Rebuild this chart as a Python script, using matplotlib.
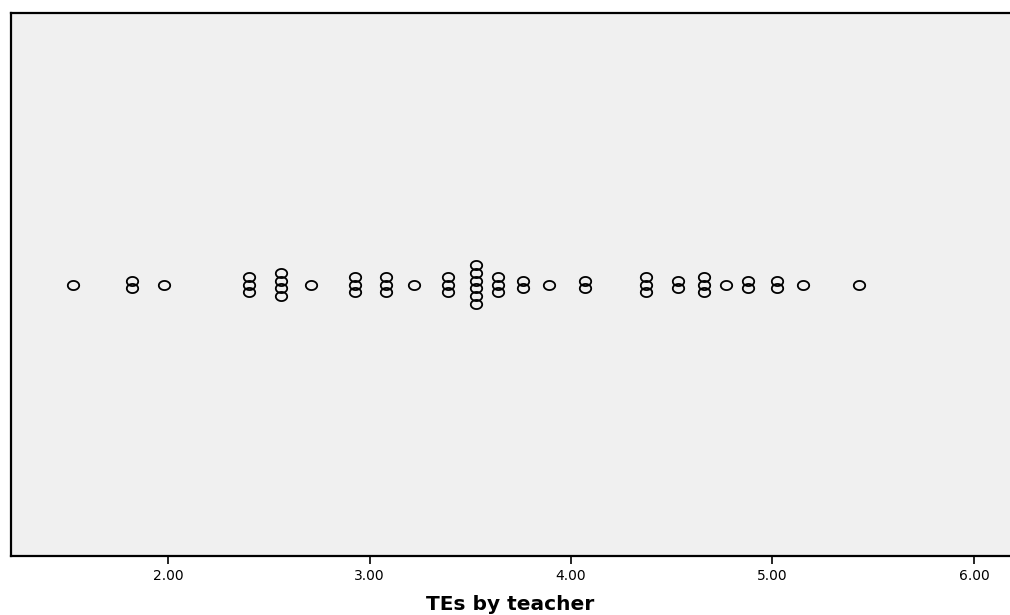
import numpy as np
from matplotlib import pyplot as plt
from matplotlib.path import Path

# dot plot values (TEs by teacher) and how many cases sit on each value
values = [1.53, 1.82, 1.98, 2.40, 2.56, 2.71, 2.93, 3.08, 3.22, 3.39, 3.53, 3.64,
          3.76, 3.89, 4.07, 4.37, 4.53, 4.66, 4.77, 4.88, 5.02, 5.15, 5.43]
counts = [1, 2, 1, 3, 4, 1, 3, 3, 1, 3, 6, 3, 2, 1, 2, 3, 2, 3, 1, 2, 2, 1, 1]
ticks = [2.0, 3.0, 4.0, 5.0, 6.0]
tick_labels = ["2.00", "3.00", "4.00", "5.00", "6.00"]

plt.rcParams['font.family'] = ['DejaVu Sans']

# stack the circles around the centre line
xs, ys = [], []
for v, n in zip(values, counts):
    for i in range(n):
        xs.append(v)
        ys.append(i - (n - 1) / 2)

t = np.linspace(0, 2 * np.pi, 60)
ellipse = Path(np.column_stack([np.cos(t), 0.8 * np.sin(t)]), closed=True)

fig = plt.figure(figsize=(10.1, 6.15), dpi=100)
ax = fig.add_axes([11 / 1010, 1 - 556 / 615, 999 / 1010, 543 / 615])
ax.set_facecolor("#f0f0f0")

ax.plot(xs, ys, linestyle="none", marker=ellipse, markersize=8.2,
        markerfacecolor="none", markeredgecolor="black", markeredgewidth=1.3)

ax.set_xlim(1.2208, 6.1787)
ax.set_ylim(-35.7, 35.7)
ax.set_xticks(ticks)
ax.set_xticklabels(tick_labels, fontsize=10)
ax.set_yticks([])
ax.tick_params(axis="x", direction="out", length=6, width=1.2, pad=3)

for s in ["left", "top", "bottom"]:
    ax.spines[s].set_linewidth(1.6)
    ax.spines[s].set_color("black")
ax.spines["right"].set_visible(False)

ax.set_xlabel("TEs by teacher", fontsize=14.5, fontweight="bold", labelpad=9)

fig.savefig("out.png", dpi=100)
